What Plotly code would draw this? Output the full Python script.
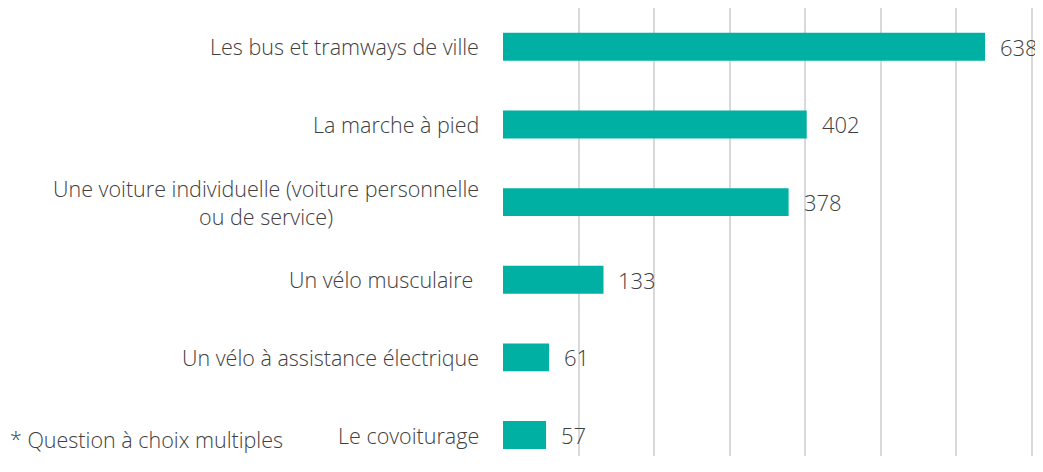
import plotly.graph_objects as go

#--- données
categories = [
    "Les bus et tramways de ville",
    "La marche à pied",
    "Une voiture individuelle (voiture personnelle<br>ou de service)",
    "Un vélo musculaire ",
    "Un vélo à assistance électrique",
    "Le covoiturage",
]
valeurs = [638, 402, 378, 133, 61, 57]
note = "* Question à choix multiples"

cor_barra = '#00B0A2'
cor_texto = '#404040'
fonte = "Open Sans"

fig = go.Figure()
fig.add_trace(
    go.Bar(x=valeurs, y=categories, orientation='h', marker_color=cor_barra,
           marker_line_width=0, hoverinfo='skip')
)

# rótulos dos valores
for cat, v in zip(categories, valeurs):
    fig.add_annotation(x=v, y=cat, text=str(v), showarrow=False,
                       xanchor='left', xshift=13,
                       font=dict(family=fonte, size=22, color=cor_texto, weight=300))

# rótulos das categorias
for cat in categories:
    fig.add_annotation(x=0, xref='paper', y=cat, text=cat, showarrow=False,
                       xanchor='right', align='center', xshift=-22,
                       font=dict(family=fonte, size=21.5, color=cor_texto, weight=300))

# nota de rodapé
fig.add_annotation(x=-0.91, xref='paper', y=0, yref='paper', text=note,
                   showarrow=False, xanchor='left', yanchor='bottom',
                   font=dict(family=fonte, size=21.5, color=cor_texto, weight=300))

fig.update_xaxes(range=[0, 720], dtick=100, showgrid=True, gridcolor='#D9D9D9',
                 gridwidth=1.5, showticklabels=False, zeroline=False, ticks='')
fig.update_yaxes(range=[5.27, -0.5], showticklabels=False, showgrid=False,
                 zeroline=False, ticks='')
# a página tem 8px de margem no body: compensar aqui
fig.update_layout(width=1040, height=448, bargap=0.64, showlegend=False,
                  plot_bgcolor='white', paper_bgcolor='white',
                  margin=dict(l=495, r=1, t=0, b=0),
                  font=dict(family=fonte, color=cor_texto))
fig.write_html("out.html")
